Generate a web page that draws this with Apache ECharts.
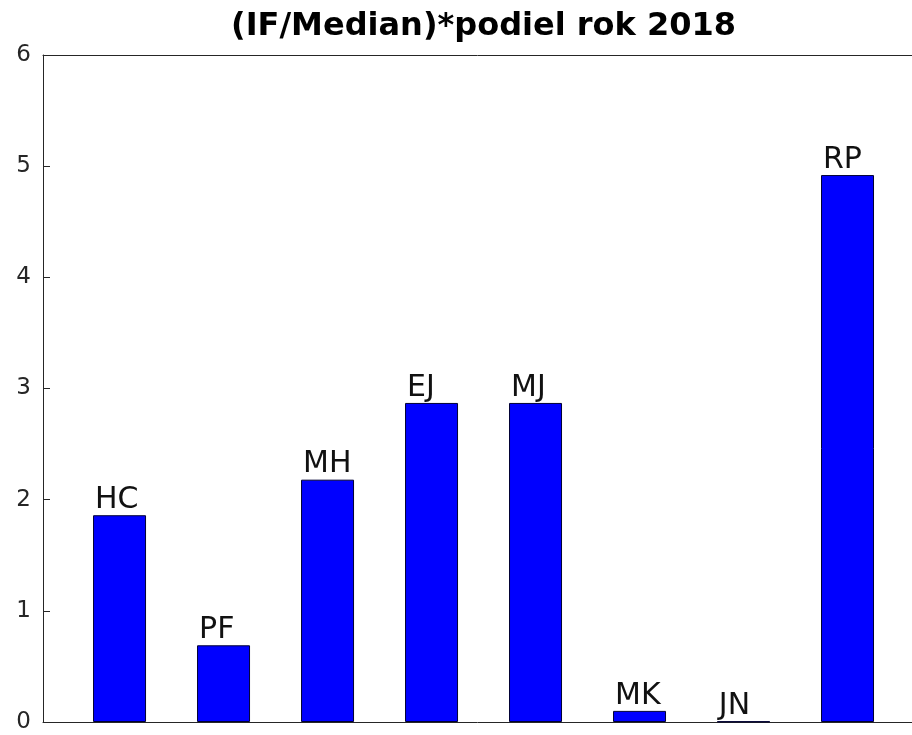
<!DOCTYPE html>
<html>
<head>
<meta charset="utf-8">
<script src="https://cdn.jsdelivr.net/npm/echarts@6/dist/echarts.min.js"></script>
<style>
html,body{margin:0;padding:0;background:#fff;}
#chart{width:912px;height:735px;}
</style>
</head>
<body>
<div id="chart"></div>
<script>
var titleText = '(IF/Median)*podiel rok 2018';
var categories = ['HC', 'PF', 'MH', 'EJ', 'MJ', 'MK', 'JN', 'RP'];
var values = [1.86, 0.69, 2.18, 2.87, 2.87, 0.10, 0.005, 4.92];
var yTicks = [0, 1, 2, 3, 4, 5, 6];

var chart = echarts.init(document.getElementById('chart'), null, {renderer: 'canvas'});
var axisColor = '#262626';
var data = values.map(function (v, i) { return {value: [i + 1, v], name: categories[i]}; });

chart.setOption({
  animation: false,
  backgroundColor: '#ffffff',
  title: {
    text: titleText,
    left: 226,
    top: 6,
    textStyle: {fontFamily: 'DejaVu Sans', fontWeight: 'bold', fontSize: 32, color: '#000'}
  },
  grid: {left: 43, right: 0, top: 55, bottom: 13},
  xAxis: [{
    type: 'value', min: 0.264, max: 8.62,
    axisLine: {show: true, lineStyle: {color: axisColor, width: 1}},
    axisTick: {show: false}, axisLabel: {show: false}, splitLine: {show: false}
  }, {
    type: 'value', position: 'top', min: 0.264, max: 8.62,
    axisLine: {show: true, lineStyle: {color: axisColor, width: 1}},
    axisTick: {show: false}, axisLabel: {show: false}, splitLine: {show: false}
  }],
  yAxis: {
    type: 'value', min: yTicks[0], max: yTicks[yTicks.length - 1], interval: 1,
    axisLine: {show: true, lineStyle: {color: axisColor, width: 1}},
    axisTick: {show: true, inside: true, length: 7, lineStyle: {color: axisColor}},
    axisLabel: {fontFamily: 'DejaVu Sans', fontSize: 23, color: axisColor, margin: 12},
    splitLine: {show: false}
  },
  series: [{
    type: 'bar',
    data: data,
    barWidth: 53,
    itemStyle: {color: '#0000ff', borderColor: '#000033', borderWidth: 1},
    label: {
      show: true,
      position: [2, 0],
      align: 'left',
      verticalAlign: 'bottom',
      formatter: function (p) { return p.name; },
      fontFamily: 'DejaVu Sans',
      fontSize: 30,
      color: '#111'
    }
  }]
});
</script>
</body>
</html>
